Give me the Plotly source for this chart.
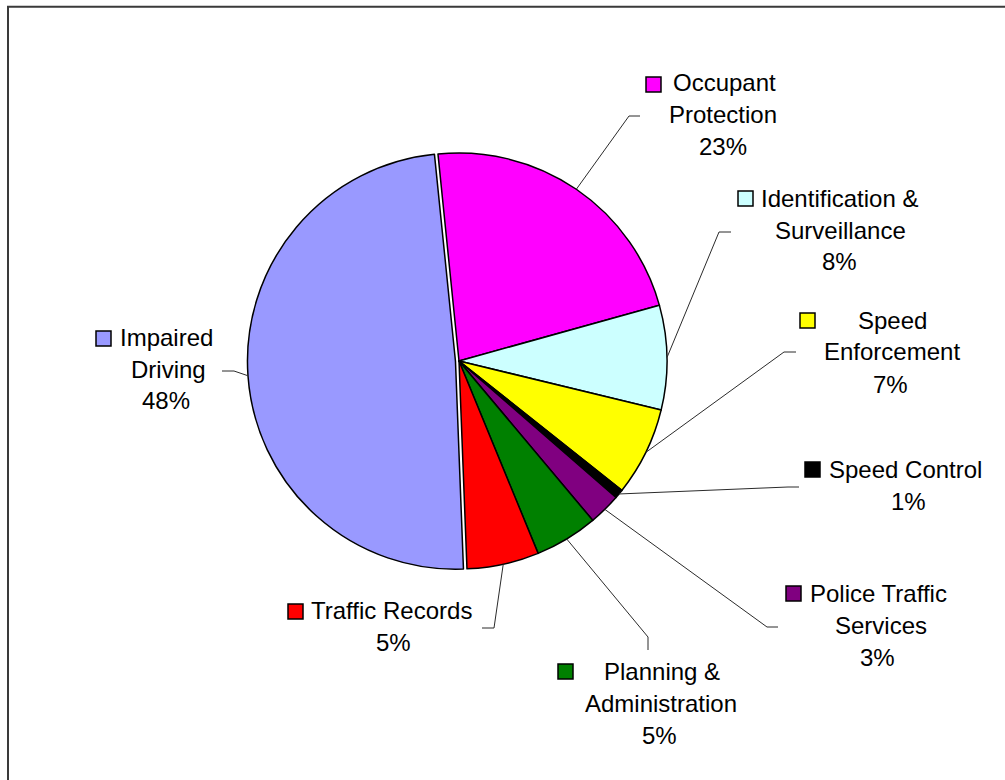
import math
import plotly.graph_objects as go

# ---------------- data ----------------
categories = [
    "Occupant Protection",
    "Identification & Surveillance",
    "Speed Enforcement",
    "Speed Control",
    "Police Traffic Services",
    "Planning & Administration",
    "Traffic Records",
    "Impaired Driving",
]
shares = [22.3, 8.1, 6.9, 0.7, 2.5, 4.9, 5.6, 49.0]
pct_labels = ["23%", "8%", "7%", "1%", "3%", "5%", "5%", "48%"]
label_lines = [
    ["Occupant", "Protection"],
    ["Identification &", "Surveillance"],
    ["Speed", "Enforcement"],
    ["Speed Control"],
    ["Police Traffic", "Services"],
    ["Planning &", "Administration"],
    ["Traffic Records"],
    ["Impaired", "Driving"],
]
colors = ["#FF00FF", "#CCFFFF", "#FFFF00", "#000000", "#800080",
          "#008000", "#FF0000", "#9999FF"]
pulls = [0, 0, 0, 0, 0, 0, 0, 0.017]

# ---------------- layout geometry (pixels) ----------------
W, H = 1005, 780
CX, CY = 459, 361      # pie centre
R = 208                # pie radius
ROT = -5.8             # start angle of first slice (deg, clockwise from 12)
FONT = 24
LINE_H = 32

# per label: legend-key square top-left, line centres x, first line y,
# leader elbow point and end point
label_layout = [
    dict(sq=(646, 77), xs=[724, 722.5, 722.5], y0=82.5, elbow=(629, 116), end=(640, 116)),
    dict(sq=(738, 191), xs=[839.5, 840, 839.5], y0=198, elbow=(719, 232), end=(731, 232)),
    dict(sq=(800, 313), xs=[892, 892, 890.5], y0=320, elbow=(784, 352), end=(796, 352)),
    dict(sq=(805, 462), xs=[905.5, 908.5], y0=469, elbow=(788, 487), end=(799, 487)),
    dict(sq=(786, 586), xs=[878.5, 881, 877.5], y0=593, elbow=(767, 627), end=(778, 627)),
    dict(sq=(558, 664), xs=[662, 661, 659.5], y0=671, elbow=(648, 637), end=(648, 650)),
    dict(sq=(288, 604), xs=[391.5, 393.7], y0=610, elbow=(494, 628), end=(482, 628)),
    dict(sq=(96, 331), xs=[166.7, 168, 165.8], y0=337, elbow=(234, 371), end=(222, 371)),
]


def px(x):
    return x / W


def py(y):
    return 1 - y / H


max_pull = max(pulls)
half = R * (1 + max_pull)
domain_x = [px(CX - half), px(CX + half)]
domain_y = [py(CY + half), py(CY - half)]

fig = go.Figure(
    go.Pie(
        labels=categories,
        values=shares,
        sort=False,
        direction="clockwise",
        rotation=ROT,
        pull=pulls,
        marker=dict(colors=colors, line=dict(color="#000000", width=1.5)),
        textinfo="none",
        hoverinfo="label+percent",
        showlegend=False,
        domain=dict(x=domain_x, y=domain_y),
    )
)

shapes = []
annotations = []

# frame
shapes.append(dict(type="rect", xref="paper", yref="paper",
                   x0=px(8), y0=py(6.8), x1=px(1012), y1=py(792),
                   line=dict(color="#3a3a3a", width=2), fillcolor="rgba(0,0,0,0)"))

total = sum(shares)
cum = 0.0
for i, cat in enumerate(categories):
    a0 = ROT + cum / total * 360
    cum += shares[i]
    a1 = ROT + cum / total * 360
    mid = math.radians((a0 + a1) / 2)
    ox = pulls[i] * R * math.sin(mid)
    oy = -pulls[i] * R * math.cos(mid)
    sx = CX + ox + R * math.sin(mid)
    sy = CY + oy - R * math.cos(mid)
    L = label_layout[i]
    ex, ey = L["elbow"]
    tx, ty = L["end"]
    shapes.append(dict(
        type="path", xref="paper", yref="paper",
        path=f"M {px(sx)},{py(sy)} L {px(ex)},{py(ey)} L {px(tx)},{py(ty)}",
        line=dict(color="#2b2b2b", width=1),
    ))
    # legend key square
    qx, qy = L["sq"]
    shapes.append(dict(type="rect", xref="paper", yref="paper",
                       x0=px(qx), y0=py(qy), x1=px(qx + 15), y1=py(qy + 15),
                       fillcolor=colors[i], line=dict(color="#000000", width=1.5)))
    lines = label_lines[i] + [pct_labels[i]]
    for k, t in enumerate(lines):
        annotations.append(dict(
            xref="paper", yref="paper", x=px(L["xs"][k]), y=py(L["y0"] + k * LINE_H),
            xanchor="center", yanchor="middle", text=t, showarrow=False,
            font=dict(family="Liberation Sans, Arial, sans-serif", size=FONT, color="#000000"),
        ))

fig.update_layout(
    width=W, height=H,
    margin=dict(l=0, r=0, t=0, b=0),
    paper_bgcolor="#FFFFFF",
    plot_bgcolor="#FFFFFF",
    shapes=shapes,
    annotations=annotations,
)

fig.write_html("out.html", config={"displayModeBar": False},
               post_script="document.body.style.margin='0';document.body.style.overflow='hidden';")
